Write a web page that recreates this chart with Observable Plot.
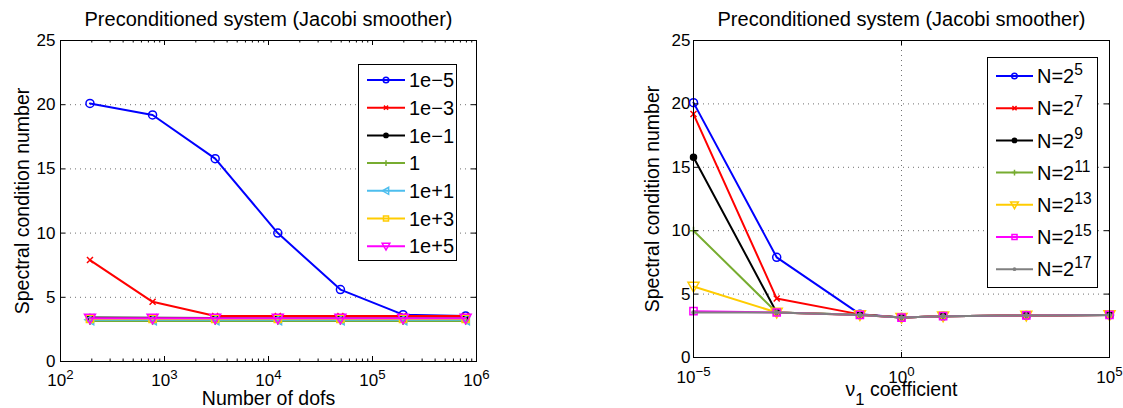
<!DOCTYPE html>
<html><head><meta charset="utf-8">
<script src="https://cdn.jsdelivr.net/npm/d3@7"></script>
<script src="https://cdn.jsdelivr.net/npm/@observablehq/plot@0.6"></script>
<style>
html,body{margin:0;padding:0;background:#fff;}
#wrap{position:relative;width:1123px;height:408px;overflow:hidden;font-family:"Liberation Sans",Arial,Helvetica,sans-serif;}
#wrap svg{position:absolute;top:0;}
</style></head><body><div id="wrap"></div>
<script>
// ---------------- data ----------------
const dofs = [192, 768, 3072, 12288, 49152, 196608, 786432];
const nExponents = [5, 7, 9, 11, 13, 15, 17];
const nuValues = [1e-5, 1e-3, 1e-1, 1, 1e1, 1e3, 1e5];
const nuLabels = ["1e\u22125", "1e\u22123", "1e\u22121", "1", "1e+1", "1e+3", "1e+5"];
// spectral condition number, one array per nu_1 value, indexed by N (= dofs)
const kappaNu1em5 = [20.1, 19.2, 15.8, 10.0, 5.6, 3.65, 3.55];
const kappaNu1em3 = [7.9, 4.65, 3.55, 3.55, 3.55, 3.55, 3.55];
const kappaNu1em1 = [3.42, 3.40, 3.38, 3.37, 3.36, 3.36, 3.36];
const kappaNu1    = [3.15, 3.15, 3.15, 3.15, 3.15, 3.15, 3.15];
const kappaNu1ep1 = [3.26, 3.26, 3.26, 3.26, 3.26, 3.26, 3.26];
const kappaNu1ep3 = [3.32, 3.32, 3.32, 3.32, 3.32, 3.32, 3.32];
const kappaNu1ep5 = [3.36, 3.36, 3.36, 3.36, 3.36, 3.36, 3.36];
const kappaRows = [kappaNu1em5, kappaNu1em3, kappaNu1em1, kappaNu1, kappaNu1ep1, kappaNu1ep3, kappaNu1ep5];
const leftXTicks = [1e2, 1e3, 1e4, 1e5, 1e6];
const rightXTicks = [1e-5, 1, 1e5];
const yTicks = [0, 5, 10, 15, 20, 25];
const yGrid = [5, 10, 15, 20];
const titleText = "Preconditioned system (Jacobi smoother)";
const yLabelText = "Spectral condition number";

// ---------------- styles ----------------
const FONT = '"Liberation Sans", Arial, Helvetica, sans-serif';
function symCircle(r){return {draw(c){c.moveTo(r,0);c.arc(0,0,r,0,2*Math.PI);}};}
function symDot(r){return symCircle(r);}
function symPlus(s){return {draw(c){c.moveTo(-s,0);c.lineTo(s,0);c.moveTo(0,-s);c.lineTo(0,s);}};}
function symX(s){return {draw(c){c.moveTo(-s,-s);c.lineTo(s,s);c.moveTo(-s,s);c.lineTo(s,-s);}};}
function symSquare(s){return {draw(c){c.moveTo(-s,-s);c.lineTo(s,-s);c.lineTo(s,s);c.lineTo(-s,s);c.closePath();}};}
function symTriDown(s){return {draw(c){c.moveTo(-s,-s*0.75);c.lineTo(s,-s*0.75);c.lineTo(0,s);c.closePath();}};}
function symTriLeft(s){return {draw(c){c.moveTo(s*0.75,-s);c.lineTo(s*0.75,s);c.lineTo(-s,0);c.closePath();}};}

const mk = {
  circle:  k => ({sym: symCircle(4*k), fill: "none"}),
  x:       k => ({sym: symX(3*k), fill: "none"}),
  dot:     k => ({sym: symDot(3*k), fill: "solid"}),
  plus:    k => ({sym: symPlus(4*k), fill: "none"}),
  triLeft: k => ({sym: symTriLeft(5*k), fill: "none"}),
  square:  k => ({sym: symSquare(3.6*k), fill: "none"}),
  triDown: k => ({sym: symTriDown(5.5*k), fill: "none"}),
  point:   k => ({sym: symDot(1.6*k), fill: "solid"})
};
const leftStyles = [
  ["#0000ff","circle"],["#ff0000","x"],["#000000","dot"],["#77ac30","plus"],
  ["#4dbeee","triLeft"],["#ffcc00","square"],["#ff00ff","triDown"]
];
const rightStyles = [
  ["#0000ff","circle"],["#ff0000","x"],["#000000","dot"],["#77ac30","plus"],
  ["#ffcc00","triDown"],["#ff00ff","square"],["#808080","point"]
];

// ---------------- helpers ----------------
function sup10(v){
  const e = Math.round(Math.log10(v));
  return "10^" + (e < 0 ? "\u2212" + (-e) : String(e));
}
function applyScripts(svg){
  d3.select(svg).selectAll("text").each(function(){
    const t = this.textContent;
    const m = t.match(/^(.*?)([\^_])([^\s]+)(.*)$/);
    if (!m) return;
    const [ , base, kind, script, rest] = m;
    const el = d3.select(this);
    el.text(null);
    el.append("tspan").text(base);
    const size = kind === "^" ? 0.78 : 0.85;
    const shift = kind === "^" ? -0.52 : 0.55;
    el.append("tspan").attr("font-size", (size*100)+"%").attr("dy", shift+"em").text(script);
    if (rest) el.append("tspan").attr("dy", (-shift*size)+"em").text(rest);
  });
}
function addLegend(svg, cfg){
  const g = d3.select(svg).append("g").attr("font-family", FONT).attr("font-size", 20).attr("text-anchor","start");
  g.append("rect").attr("x",cfg.x0+0.5).attr("y",cfg.y0+0.5).attr("width",cfg.w).attr("height",cfg.h)
    .attr("fill","white").attr("stroke","black").attr("stroke-width",1);
  cfg.items.forEach((it,i)=>{
    const y = cfg.first + i*cfg.step;
    g.append("line").attr("x1",cfg.lx1).attr("x2",cfg.lx2).attr("y1",y).attr("y2",y)
      .attr("stroke",it.color).attr("stroke-width",2);
    const m = mk[it.marker](0.7);
    g.append("path").attr("d", d3.symbol(m.sym, 30)()).attr("transform",`translate(${(cfg.lx1+cfg.lx2)/2},${y})`)
      .attr("stroke",it.color).attr("stroke-width",1.5).attr("fill", m.fill === "none" ? "none" : it.color);
    g.append("text").attr("x",cfg.tx).attr("y",y).attr("dy","0.36em").attr("fill","black").text(it.label);
  });
}

function makeChart(o){
  const H = 408 - o.mT - o.mB;
  const W = o.width - o.mL - o.mR;
  const marks = [
    Plot.ruleY(yGrid, {y: d => d, stroke: "#707070", strokeDasharray: "1,4"}),
    ...(o.xGrid ? [Plot.ruleX(o.xGrid, {x: d => d, stroke: "#707070", strokeDasharray: "1,4"})] : [])
  ];
  o.series.forEach(s => {
    const m = mk[s.marker](1);
    marks.push(Plot.line(s.data, {x: "x", y: "y", stroke: s.color, strokeWidth: 2}));
    marks.push(Plot.dot(s.data, {x: "x", y: "y", symbol: m.sym, r: 4, stroke: s.color,
      fill: m.fill === "none" ? "none" : s.color, strokeWidth: 1.5}));
  });
  marks.push(
    Plot.frame({stroke: "black"}),
    Plot.tickX(o.xTicks, {x: d => d, insetTop: H - 5, stroke: "black"}),
    Plot.tickX(o.xTicks, {x: d => d, insetBottom: H - 5, stroke: "black"}),
    Plot.tickY(yTicks, {y: d => d, insetRight: W - 5, stroke: "black"}),
    Plot.tickY(yTicks, {y: d => d, insetLeft: W - 5, stroke: "black"}),
    Plot.text([titleText], {text: d => d, frameAnchor: "top", textAnchor: "middle", lineAnchor: "middle", dy: -21, fontSize: 20, fill: "black"}),
    Plot.text([yLabelText], {text: d => d, frameAnchor: "left", textAnchor: "middle", lineAnchor: "middle", rotate: -90, dx: o.yLabelDx, fontSize: 19.5, fill: "black"}),
    Plot.text([o.xLabel], {text: d => d, frameAnchor: "bottom", textAnchor: "middle", lineAnchor: "middle", dy: o.xLabelDy, fontSize: 19.5, fill: "black"})
  );
  if (o.xMinor) {
    marks.push(
      Plot.tickX(o.xMinor, {x: d => d, insetTop: H - 2.5, stroke: "black"}),
      Plot.tickX(o.xMinor, {x: d => d, insetBottom: H - 2.5, stroke: "black"})
    );
  }
  const chart = Plot.plot({
    width: o.width, height: 408,
    marginLeft: o.mL, marginRight: o.mR, marginTop: o.mT, marginBottom: o.mB,
    x: {type: "log", domain: o.xDomain, ticks: o.xTicks, tickFormat: sup10, tickSize: 0, tickPadding: o.xPad, label: null},
    y: {domain: [0, 25], ticks: yTicks, tickSize: 0, tickPadding: o.yPad, label: null},
    style: {fontFamily: FONT, fontSize: "17px", color: "black", background: "transparent", overflow: "visible"},
    marks
  });
  chart.style.left = o.left + "px";
  applyScripts(chart);
  return chart;
}

// ---------------- build ----------------
const wrap = document.getElementById("wrap");

const leftMinor = [];
for (let k = 2; k <= 5; k++) for (let m = 2; m <= 9; m++) leftMinor.push(m * 10 ** k);

const leftSeries = kappaRows.map((row, i) => ({
  color: leftStyles[i][0], marker: leftStyles[i][1],
  data: dofs.map((d, j) => ({x: d, y: row[j]}))
}));
const rightSeries = nExponents.map((e, j) => ({
  color: rightStyles[j][0], marker: rightStyles[j][1],
  data: nuValues.map((nu, i) => ({x: nu, y: kappaRows[i][j]}))
}));

const left = makeChart({
  left: 0, width: 560, mL: 60, mR: 84, mT: 40, mB: 47,
  xDomain: [1e2, 1e6], xTicks: leftXTicks, xMinor: leftMinor, xPad: 12, yPad: 5,
  series: leftSeries, xLabel: "Number of dofs", xLabelDy: 37, yLabelDx: -38
});
wrap.appendChild(left);
addLegend(left, {x0: 358, y0: 64, w: 98, h: 196, first: 80, step: 27.7, lx1: 367, lx2: 405, tx: 409,
  items: nuLabels.map((l, i) => ({label: l, color: leftStyles[i][0], marker: leftStyles[i][1]}))});

const right = makeChart({
  left: 560, width: 563, mL: 133, mR: 14, mT: 40, mB: 51,
  xDomain: [1e-5, 1e5], xTicks: rightXTicks, xGrid: [1], xPad: 13, yPad: 3,
  series: rightSeries, xLabel: "\u03bd_1 coefficient", xLabelDy: 32, yLabelDx: -41
});
wrap.appendChild(right);
addLegend(right, {x0: 427, y0: 57, w: 110, h: 230, first: 76, step: 32.2, lx1: 436, lx2: 473, tx: 477,
  items: nExponents.map((e, j) => ({label: "N=2^" + e, color: rightStyles[j][0], marker: rightStyles[j][1]}))});
applyScripts(right);
</script></body></html>
